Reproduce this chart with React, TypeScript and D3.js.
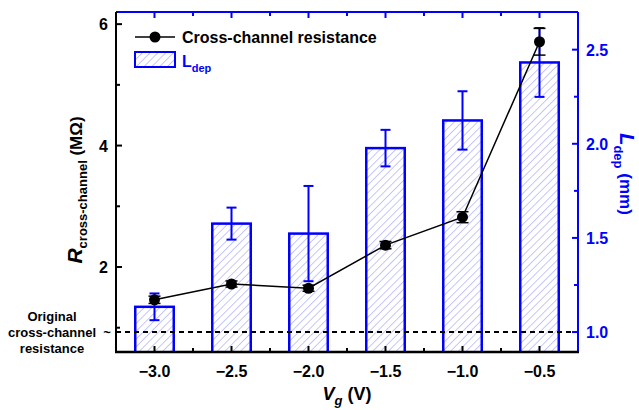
import React from 'react';
import * as d3 from 'd3';

const voltages = [-3.0, -2.5, -2.0, -1.5, -1.0, -0.5];
const voltageLabels = ['\u22123.0', '\u22122.5', '\u22122.0', '\u22121.5', '\u22121.0', '\u22120.5'];
const resistance = [1.46, 1.72, 1.65, 2.36, 2.82, 5.71];
const resistanceErr = [0.06, 0.05, 0.05, 0.06, 0.09, 0.22];
const ldep = [1.134, 1.576, 1.523, 1.977, 2.124, 2.432];
const ldepErr = [0.071, 0.085, 0.253, 0.097, 0.155, 0.183];
const originalResistance = 1.0; // drawn against the L_dep axis scale
const leftTicks = [2, 4, 6];
const leftMinor = [1, 3, 5];
const rightTicks = [1.0, 1.5, 2.0, 2.5];
const rightMinor = [1.25, 1.75, 2.25];
const xMinor = [-2.75, -2.25, -1.75, -1.25, -0.75];

const W = 639;
const H = 410;
const m = { left: 116, right: 578, top: 12, bottom: 352 };
const FONT = 'Arial, "Liberation Sans", sans-serif';
const BLUE = '#0000ff';

export default function App() {
  const x = d3.scaleLinear().domain([-3.25, -0.25]).range([m.left, m.right]);
  const yL = d3.scaleLinear().domain([0.6, 6.2]).range([m.bottom, m.top]);
  const yR = d3.scaleLinear().domain([0.894, 2.70]).range([m.bottom, m.top]);
  const barW = x(0.25) - x(0);

  const line = d3.line<number>()
    .x((_, i) => x(voltages[i]))
    .y(d => yL(d));

  return (
    <div style={{ position: 'absolute', left: 0, top: 0 }}>
      <svg width={W} height={H} style={{ display: 'block', background: '#fff' }} fontFamily={FONT}>
        <defs>
          <pattern id="hatch" patternUnits="userSpaceOnUse" width="5.5" height="5.5" patternTransform="rotate(45)">
            <line x1="0" y1="0" x2="0" y2="5.5" stroke="#8c8cff" strokeWidth="1" />
          </pattern>
          <clipPath id="plot">
            <rect x={m.left} y={m.top} width={m.right - m.left} height={m.bottom - m.top} />
          </clipPath>
        </defs>

        <g clipPath="url(#plot)">
          {/* bars */}
          {ldep.map((v, i) => (
            <rect key={'b' + i}
              x={x(voltages[i]) - barW / 2} y={yR(v)}
              width={barW} height={m.bottom + 4 - yR(v)}
              fill="url(#hatch)" stroke={BLUE} strokeWidth={2.5} />
          ))}
          {/* bar error bars */}
          {ldep.map((v, i) => {
            const cx = x(voltages[i]);
            const y1 = yR(v + ldepErr[i]);
            const y2 = yR(v - ldepErr[i]);
            return (
              <g key={'be' + i} stroke={BLUE} strokeWidth={2}>
                <line x1={cx} x2={cx} y1={y1} y2={y2} />
                <line x1={cx - 5} x2={cx + 5} y1={y1} y2={y1} />
                <line x1={cx - 5} x2={cx + 5} y1={y2} y2={y2} />
              </g>
            );
          })}
          {/* original resistance line */}
          <line x1={m.left} x2={m.right} y1={yR(originalResistance)} y2={yR(originalResistance)}
            stroke="#000" strokeWidth={2} strokeDasharray="5 4" />
          {/* resistance line */}
          <path d={line(resistance) || ''} fill="none" stroke="#000" strokeWidth={1.5} />
          {resistance.map((v, i) => {
            const cx = x(voltages[i]);
            const y1 = yL(v + resistanceErr[i]);
            const y2 = yL(v - resistanceErr[i]);
            return (
              <g key={'r' + i}>
                <g stroke="#000" strokeWidth={1.5}>
                  <line x1={cx} x2={cx} y1={y1} y2={y2} />
                  <line x1={cx - 6} x2={cx + 6} y1={y1} y2={y1} />
                  <line x1={cx - 6} x2={cx + 6} y1={y2} y2={y2} />
                </g>
                <circle cx={cx} cy={yL(v)} r={5.5} fill="#000" />
              </g>
            );
          })}
        </g>

        {/* axes frame */}
        <line x1={m.left} x2={m.right} y1={m.top} y2={m.top} stroke={BLUE} strokeWidth={2} />
        <line x1={m.right} x2={m.right} y1={m.top} y2={m.bottom} stroke={BLUE} strokeWidth={2} />
        <line x1={m.left} x2={m.left} y1={m.top} y2={m.bottom} stroke="#000" strokeWidth={2} />
        <line x1={m.left - 1} x2={m.right + 1} y1={m.bottom} y2={m.bottom} stroke="#000" strokeWidth={2.5} />

        {/* x ticks */}
        {voltages.map((v, i) => (
          <g key={'xt' + i}>
            <line x1={x(v)} x2={x(v)} y1={m.bottom} y2={m.bottom - 6} stroke="#000" strokeWidth={2} />
            <line x1={x(v)} x2={x(v)} y1={m.top} y2={m.top + 6} stroke={BLUE} strokeWidth={2} />
            <text x={x(v)} y={m.bottom + 25} textAnchor="middle" fontSize={16} fontWeight="bold">{voltageLabels[i]}</text>
          </g>
        ))}
        {xMinor.map((v, i) => (
          <g key={'xm' + i}>
            <line x1={x(v)} x2={x(v)} y1={m.bottom} y2={m.bottom - 4} stroke="#000" strokeWidth={2} />
            <line x1={x(v)} x2={x(v)} y1={m.top} y2={m.top + 4} stroke={BLUE} strokeWidth={2} />
          </g>
        ))}

        {/* left ticks */}
        {leftTicks.map(v => (
          <g key={'lt' + v}>
            <line x1={m.left} x2={m.left + 6} y1={yL(v)} y2={yL(v)} stroke="#000" strokeWidth={2} />
            <text x={m.left - 8} y={yL(v) + 6} textAnchor="end" fontSize={16} fontWeight="bold">{v}</text>
          </g>
        ))}
        {leftMinor.map(v => (
          <line key={'lm' + v} x1={m.left} x2={m.left + 4} y1={yL(v)} y2={yL(v)} stroke="#000" strokeWidth={2} />
        ))}

        {/* right ticks */}
        {rightTicks.map(v => (
          <g key={'rt' + v}>
            <line x1={m.right} x2={m.right - 6} y1={yR(v)} y2={yR(v)} stroke={BLUE} strokeWidth={2} />
            <text x={m.right + 8} y={yR(v) + 6} fontSize={16} fontWeight="bold" fill={BLUE}>{v.toFixed(1)}</text>
          </g>
        ))}
        {rightMinor.map(v => (
          <line key={'rm' + v} x1={m.right} x2={m.right - 4} y1={yR(v)} y2={yR(v)} stroke={BLUE} strokeWidth={2} />
        ))}

        {/* axis titles */}
        <text x={347} y={400} textAnchor="middle" fontSize={18} fontWeight="bold">
          <tspan fontStyle="italic">V</tspan>
          <tspan fontStyle="italic" fontSize={13} dy={5}>g</tspan>
          <tspan dy={-5}>{' (V)'}</tspan>
        </text>
        <text transform="translate(82,190) rotate(-90)" textAnchor="middle" fontWeight="bold" fontSize={17}>
          <tspan fontStyle="italic" fontSize={21}>R</tspan>
          <tspan fontSize={13} dy={5}>cross-channel</tspan>
          <tspan dy={-5}>{' (M\u03a9)'}</tspan>
        </text>
        <text transform="translate(620,174) rotate(90)" textAnchor="middle" fontWeight="bold" fontSize={17} fill={BLUE}>
          <tspan fontStyle="italic" fontSize={20}>L</tspan>
          <tspan fontSize={13} dy={6}>dep</tspan>
          <tspan dy={-6}>{' (mm)'}</tspan>
        </text>

        {/* original resistance annotation */}
        <g fontSize={13} fontWeight="bold" textAnchor="middle">
          <text x={52} y={321}>Original</text>
          <text x={52} y={337}>cross-channel</text>
          <text x={52} y={353}>resistance</text>
          <text x={107} y={337}>~</text>
        </g>

        {/* legend */}
        <g>
          <line x1={135} x2={175} y1={37} y2={37} stroke="#000" strokeWidth={1.5} />
          <circle cx={155} cy={37} r={5.5} fill="#000" />
          <text x={182} y={43} fontSize={16} fontWeight="bold">Cross-channel resistance</text>
          <rect x={135} y={52} width={40} height={15} fill="url(#hatch)" stroke={BLUE} strokeWidth={2} />
          <text x={182} y={67} fontSize={16} fontWeight="bold" fill={BLUE}>
            <tspan>L</tspan>
            <tspan fontSize={11} dy={5}>dep</tspan>
          </text>
        </g>
      </svg>
    </div>
  );
}
